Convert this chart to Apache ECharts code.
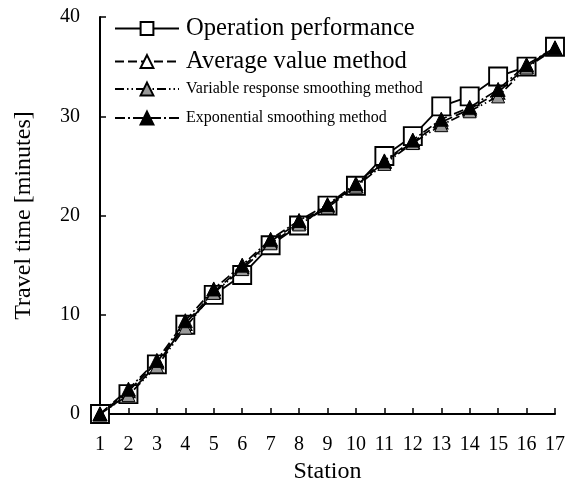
<!DOCTYPE html>
<html>
<head>
<meta charset="utf-8">
<script src="https://cdn.jsdelivr.net/npm/echarts@6/dist/echarts.min.js"></script>
<style>
html,body{margin:0;padding:0;background:#fff;}
#c{width:568px;height:479px;}
</style>
</head>
<body>
<div id="c"></div>
<script>
const stations = ['1','2','3','4','5','6','7','8','9','10','11','12','13','14','15','16','17'];
const operationPerformance = [0,2,5,9,12,14,17,19,21,23,26,28,31,32,34,35,37];
const averageValue = [0,2.3,5.2,9.1,12.3,14.8,17.4,19.3,21.0,23.0,25.4,27.4,29.4,30.7,32.4,35.0,36.8];
const variableResponse = [0,1.9,4.8,8.7,12.2,14.6,17.2,19.1,20.8,22.9,25.2,27.3,29.1,30.5,32.0,34.9,36.8];
const exponentialSmoothing = [0,2.5,5.4,9.4,12.6,15.0,17.6,19.5,21.1,23.2,25.5,27.6,29.7,30.9,32.7,35.2,36.9];
const seriesNames = ['Operation performance','Average value method','Variable response smoothing method','Exponential smoothing method'];

const font = '"Liberation Serif","Times New Roman",serif';
const chart = echarts.init(document.getElementById('c'), null, {renderer:'canvas'});

function legend(name, top, size){
  return {
    data:[{name:name}],
    left:109, top:top, orient:'vertical',
    itemWidth:64, itemHeight:16, itemGap:0,
    selectedMode:false,
    textStyle:{fontFamily:font, fontSize:size, color:'#000', padding:[0,0,0,2]}
  };
}

chart.setOption({
  backgroundColor:'#fff',
  animation:false,
  legend:[
    legend(seriesNames[0], 11, 24.6),
    legend(seriesNames[1], 44, 24.6),
    legend(seriesNames[2], 76, 16),
    legend(seriesNames[3], 105, 16)
  ],
  grid:{left:100, right:13, top:17, bottom:65, containLabel:false, outerBoundsMode:'none'},
  xAxis:{
    type:'category', data:stations, boundaryGap:false,
    name:'Station', nameLocation:'middle', nameGap:38,
    nameTextStyle:{fontFamily:font, fontSize:24, color:'#000'},
    axisLine:{lineStyle:{color:'#000', width:2}},
    axisTick:{inside:true, length:6, lineStyle:{color:'#000', width:1.5}},
    axisLabel:{fontFamily:font, fontSize:20, color:'#000', margin:21, interval:0}
  },
  yAxis:{
    type:'value', min:0, max:40, interval:10,
    name:'Travel time [minutes]', nameLocation:'middle', nameGap:64,
    nameTextStyle:{fontFamily:font, fontSize:24, color:'#000'},
    axisLine:{show:true, lineStyle:{color:'#000', width:2}},
    axisTick:{show:true, inside:true, length:6, lineStyle:{color:'#000', width:1.5}},
    splitLine:{show:false},
    axisLabel:{fontFamily:font, fontSize:20, color:'#000', margin:20}
  },
  series:[
    {name:seriesNames[0], type:'line', data:operationPerformance, z:2,
     symbol:'rect', symbolSize:18,
     itemStyle:{color:'#fff', borderColor:'#000', borderWidth:1.9},
     lineStyle:{color:'#000', width:1.8, type:'solid'}},
    {name:seriesNames[1], type:'line', data:averageValue, z:3,
     symbol:'triangle', symbolSize:13,
     itemStyle:{color:'#fff', borderColor:'#000', borderWidth:1.4},
     lineStyle:{color:'#000', width:1.7, type:[9,4]}},
    {name:seriesNames[2], type:'line', data:variableResponse, z:4,
     symbol:'triangle', symbolSize:13,
     itemStyle:{color:'#999', borderColor:'#000', borderWidth:1},
     lineStyle:{color:'#000', width:1.7, type:[9,3,1.5,3,1.5,3]}},
    {name:seriesNames[3], type:'line', data:exponentialSmoothing, z:5,
     symbol:'triangle', symbolSize:14,
     itemStyle:{color:'#000', borderColor:'#000', borderWidth:1},
     lineStyle:{color:'#000', width:1.7, type:[10,3,2,3]}}
  ]
});
</script>
</body>
</html>
